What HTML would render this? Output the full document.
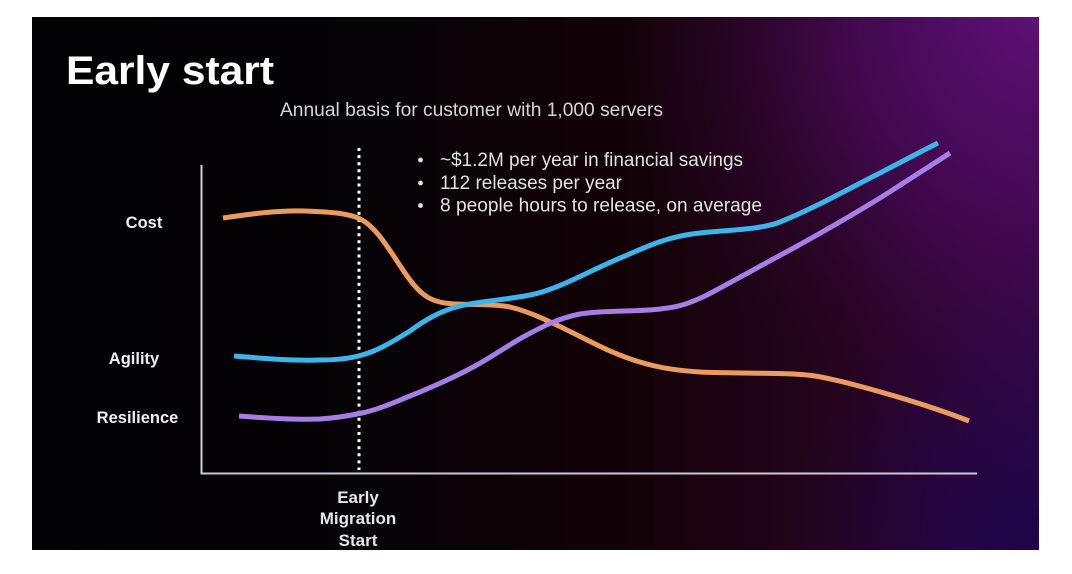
<!DOCTYPE html>
<html>
<head>
<meta charset="utf-8">
<style>
  html,body{margin:0;padding:0;background:#ffffff;}
  body{width:1072px;height:574px;overflow:hidden;}
  svg{display:block;}
  text{font-family:"Liberation Sans", sans-serif;}
</style>
</head>
<body>
<svg width="1072" height="574" viewBox="0 0 1072 574" xmlns="http://www.w3.org/2000/svg">
  <defs>
    <linearGradient id="bgH" x1="0" y1="0" x2="1" y2="0">
      <stop offset="0" stop-color="#020205"/>
      <stop offset="0.35" stop-color="#060205"/>
      <stop offset="0.6" stop-color="#130208"/>
      <stop offset="0.8" stop-color="#25041c"/>
      <stop offset="1" stop-color="#3a0748"/>
    </linearGradient>
    <radialGradient id="tr" cx="1039" cy="17" r="420" gradientUnits="userSpaceOnUse">
      <stop offset="0" stop-color="#5e1076" stop-opacity="1"/>
      <stop offset="0.45" stop-color="#4a0b5c" stop-opacity="0.75"/>
      <stop offset="1" stop-color="#2a0530" stop-opacity="0"/>
    </radialGradient>
    <radialGradient id="br" cx="1039" cy="550" r="260" gradientUnits="userSpaceOnUse">
      <stop offset="0" stop-color="#1a0548" stop-opacity="0.95"/>
      <stop offset="1" stop-color="#1a0548" stop-opacity="0"/>
    </radialGradient>
  </defs>

  <!-- slide background -->
  <rect x="32" y="17" width="1007" height="533" fill="url(#bgH)"/>
  <rect x="32" y="17" width="1007" height="533" fill="url(#tr)"/>
  <rect x="32" y="17" width="1007" height="533" fill="url(#br)"/>

  <!-- title -->
  <text x="66" y="84" font-size="40" font-weight="bold" fill="#ffffff" textLength="208" lengthAdjust="spacingAndGlyphs">Early start</text>

  <!-- subtitle -->
  <text x="280" y="116" font-size="19" fill="#d6d6d6" textLength="383" lengthAdjust="spacingAndGlyphs">Annual basis for customer with 1,000 servers</text>

  <!-- bullets -->
  <g fill="#e2e2e2" font-size="19">
    <circle cx="420.5" cy="160" r="2.4"/>
    <circle cx="420.5" cy="183" r="2.4"/>
    <circle cx="420.5" cy="205.5" r="2.4"/>
    <text x="440" y="166" textLength="303" lengthAdjust="spacingAndGlyphs">~$1.2M per year in financial savings</text>
    <text x="440" y="189" textLength="182" lengthAdjust="spacingAndGlyphs">112 releases per year</text>
    <text x="440" y="211.5" textLength="322" lengthAdjust="spacingAndGlyphs">8 people hours to release, on average</text>
  </g>

  <!-- axes -->
  <line x1="201.5" y1="165" x2="201.5" y2="474" stroke="#cfcfcf" stroke-width="2"/>
  <line x1="200.5" y1="473.5" x2="977" y2="473.5" stroke="#cfc6d6" stroke-width="2"/>

  <!-- dotted migration line -->
  <line x1="359" y1="148" x2="359" y2="470" stroke="#ffffff" stroke-width="3" stroke-dasharray="3 4.1"/>

  <!-- y labels -->
  <g fill="#f0f0f0" font-size="16.5" font-weight="bold" text-anchor="middle">
    <text x="144" y="228">Cost</text>
    <text x="134" y="364">Agility</text>
    <text x="137.5" y="423">Resilience</text>
  </g>

  <!-- x label -->
  <g fill="#e6e6e6" font-size="17" font-weight="bold" text-anchor="middle">
    <text x="358" y="503">Early</text>
    <text x="358" y="524">Migration</text>
    <text x="358" y="546">Start</text>
  </g>

  <!-- curves -->
  <path d="M223,218 C250,214 280,210 305,211 C330,212 350,213 362,220 C380,230 395,260 410,280 C422,296 432,303 455,304 C475,305 495,304 510,307 C540,314 575,335 610,351 C640,364 665,370 700,372 C740,374 790,372 815,376 C840,380 915,400 969,421"
        fill="none" stroke="#eb9a60" stroke-width="5"/>
  <path d="M234,356 C260,358 290,361 320,360 C340,360 352,358 362,355 C380,350 395,340 410,331 C425,320 440,311 460,306 C480,301 505,300 530,295 C560,289 590,270 625,256 C650,245 670,236 700,233 C725,230 760,230 780,222 C815,208 850,188 880,173 C905,160 920,152 938,143"
        fill="none" stroke="#3db4ea" stroke-width="5"/>
  <path d="M239,416 C265,418 295,420 320,419 C335,418 348,416 362,413 C380,409 395,402 410,396 C435,386 455,377 475,366 C495,355 510,344 525,336 C545,325 560,318 580,314 C605,310 635,312 660,309 C680,307 690,303 705,296 C730,283 760,266 790,250 C830,228 870,205 905,182 C925,169 938,161 950,153"
        fill="none" stroke="#a77de8" stroke-width="5"/>
</svg>
</body>
</html>
